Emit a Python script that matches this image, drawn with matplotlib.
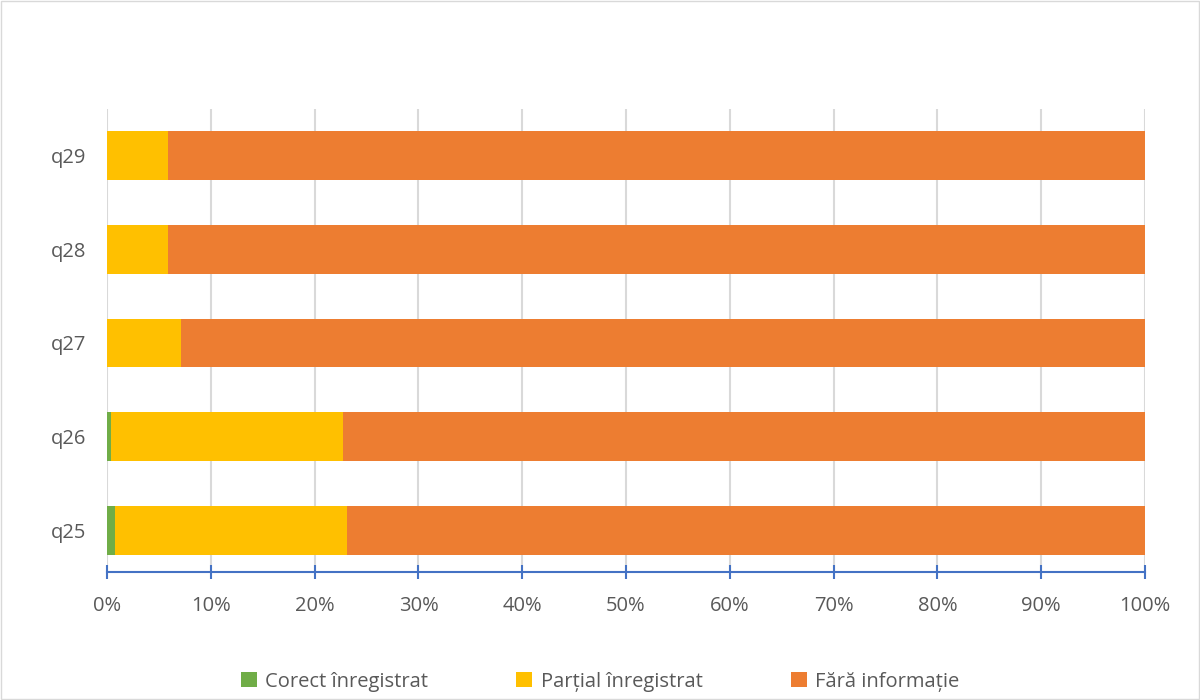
import matplotlib.pyplot as plt
import matplotlib.patches as mpatches
import numpy as np

plt.rcParams['font.family'] = ['Open Sans', 'DejaVu Sans']

questions = ['q25', 'q26', 'q27', 'q28', 'q29']
corect = [0.8, 0.4, 0.0, 0.0, 0.0]
partial = [22.3, 22.3, 7.1, 5.9, 5.9]
fara = [100 - c - p for c, p in zip(corect, partial)]

series = [
    ('Corect înregistrat', corect, '#70AD47'),
    ('Parțial înregistrat', partial, '#FFC000'),
    ('Fără informație', fara, '#ED7D31'),
]

fig = plt.figure(figsize=(12, 7), dpi=100)
ax = fig.add_axes([0.0892, 0.183, 0.865, 0.662])

y = np.arange(len(questions))
left = np.zeros(len(questions))
for name, vals, color in series:
    ax.barh(y, vals, left=left, height=0.52, color=color, label=name, zorder=3)
    left += np.array(vals)

ax.set_xlim(0, 100)
ax.set_ylim(-0.441, len(questions) - 0.5)
ax.set_yticks(y)
ax.set_yticklabels(questions)
ax.set_xticks(np.arange(0, 101, 10))
ax.set_xticklabels([f'{v}%' for v in range(0, 101, 10)])

ax.grid(axis='x', color='#D9D9D9', linewidth=1.5, zorder=0)
for s in ['top', 'right', 'left']:
    ax.spines[s].set_visible(False)
ax.spines['bottom'].set_color('#4472C4')
ax.spines['bottom'].set_linewidth(1.5)
ax.tick_params(axis='x', colors='#4472C4', direction='inout', length=10, width=1.5,
               labelcolor='#595959', labelsize=14.5, pad=12)
ax.tick_params(axis='y', length=0, labelcolor='#595959', labelsize=14.5, pad=15)

fig.legend(loc='lower center', bbox_to_anchor=(0.5, -0.014), ncol=3, frameon=False,
           fontsize=14.5, handlelength=0.8, handleheight=0.8, columnspacing=4.4,
           handletextpad=0.4, labelcolor='#595959')

# outer chart border
fig.patches.append(mpatches.Rectangle((0.001, 0.001), 0.998, 0.998, transform=fig.transFigure,
                                      fill=False, edgecolor='#D9D9D9', linewidth=1))

fig.savefig('out.png', dpi=100)
